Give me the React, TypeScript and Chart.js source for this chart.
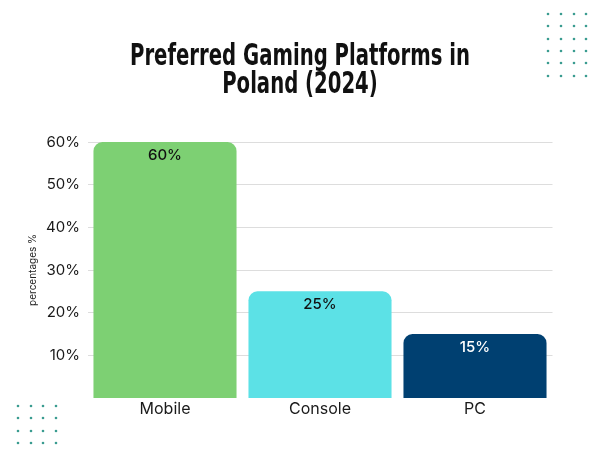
import React, { useEffect, useRef } from "react";
import { Chart, registerables } from "chart.js";

Chart.register(...registerables);

const categories = ["Mobile", "Console", "PC"];
const values = [60, 25, 15];
const barColors = ["#7dd073", "#5ce1e6", "#004071"];
const labelColors = ["#111111", "#111111", "#ffffff"];
const yTicks = [10, 20, 30, 40, 50, 60];
const titleLines = ["Preferred Gaming Platforms in", "Poland (2024)"];
const yAxisTitle = "percentages %";

const BODY_FONT = "Inter, 'Open Sans', 'Noto Sans', sans-serif";
const TITLE_FONT = "'DejaVu Sans Condensed', 'DejaVu Sans', sans-serif";

const dotGrids = [
  { xs: [548, 561, 574, 586], ys: [14, 26, 39, 51, 63, 76] },
  { xs: [18, 31, 43, 56], ys: [406, 418, 431, 443] },
];

const decorPlugin = {
  id: "decorDots",
  beforeDraw(chart: any) {
    const ctx = chart.ctx;
    ctx.save();
    ctx.fillStyle = "#3a9c90";
    dotGrids.forEach((g) => {
      g.xs.forEach((x) => {
        g.ys.forEach((y) => {
          ctx.beginPath();
          ctx.arc(x, y, 1.3, 0, Math.PI * 2);
          ctx.fill();
        });
      });
    });
    ctx.restore();
  },
};

// Condensed heavy title (the reference uses a narrow display face)
const titlePlugin = {
  id: "condensedTitle",
  afterDraw(chart: any) {
    const ctx = chart.ctx;
    ctx.save();
    ctx.font = `bold 30px ${TITLE_FONT}`;
    ctx.fillStyle = "#111111";
    ctx.textAlign = "center";
    ctx.textBaseline = "alphabetic";
    const w = ctx.measureText(titleLines[0]).width;
    const sx = 340 / w;
    const cx = chart.width / 2;
    const baselines = [65, 93];
    titleLines.forEach((line, i) => {
      ctx.save();
      ctx.translate(cx, baselines[i]);
      ctx.scale(sx, 1);
      ctx.fillText(line, 0, 0);
      ctx.restore();
    });
    ctx.restore();
  },
};

const valueLabelPlugin = {
  id: "valueLabels",
  afterDatasetsDraw(chart: any) {
    const ctx = chart.ctx;
    const meta = chart.getDatasetMeta(0);
    ctx.save();
    ctx.font = `500 15px ${BODY_FONT}`;
    ctx.textAlign = "center";
    ctx.textBaseline = "middle";
    meta.data.forEach((bar: any, i: number) => {
      ctx.fillStyle = labelColors[i];
      ctx.fillText(`${values[i]}%`, bar.x, bar.y + 13);
    });
    ctx.restore();
  },
};

export default function App() {
  const canvasRef = useRef<HTMLCanvasElement | null>(null);

  useEffect(() => {
    document.body.style.margin = "0";
    const canvas = canvasRef.current;
    if (!canvas) return;
    const chart = new Chart(canvas, {
      type: "bar",
      data: {
        labels: categories,
        datasets: [
          {
            data: values,
            backgroundColor: barColors,
            borderRadius: { topLeft: 9, topRight: 9, bottomLeft: 0, bottomRight: 0 },
            borderSkipped: false,
            barPercentage: 0.923,
            categoryPercentage: 1,
          },
        ],
      },
      options: {
        responsive: false,
        animation: false,
        maintainAspectRatio: false,
        layout: { padding: { left: 27, right: 47.5, top: 142, bottom: 22 } },
        plugins: {
          legend: { display: false },
          tooltip: { enabled: false },
          title: { display: false },
        },
        scales: {
          x: {
            grid: { display: false, drawTicks: false },
            border: { display: false },
            ticks: {
              color: "#1a1a1a",
              font: { family: BODY_FONT, size: 16 },
              padding: 2,
            },
            afterFit(scale: any) {
              scale.height = 30;
            },
          },
          y: {
            min: 0,
            max: 60,
            afterBuildTicks(scale: any) {
              scale.ticks = yTicks.map((v) => ({ value: v }));
            },
            grid: { color: "#dddddd", drawTicks: false },
            border: { display: false },
            ticks: {
              color: "#1a1a1a",
              font: { family: BODY_FONT, size: 15 },
              padding: 7.5,
              callback: (v: any) => `${v}%`,
            },
            title: {
              display: true,
              text: yAxisTitle,
              color: "#222222",
              font: { family: BODY_FONT, size: 10 },
              padding: 0,
            },
            afterFit(scale: any) {
              scale.width = 60.5;
            },
          },
        },
      },
      plugins: [decorPlugin, valueLabelPlugin, titlePlugin],
    });
    return () => chart.destroy();
  }, []);

  return (
    <div style={{ position: "fixed", left: 0, top: 0, width: 600, height: 450, background: "#ffffff" }}>
      <canvas ref={canvasRef} width={600} height={450} style={{ width: 600, height: 450 }} />
    </div>
  );
}
